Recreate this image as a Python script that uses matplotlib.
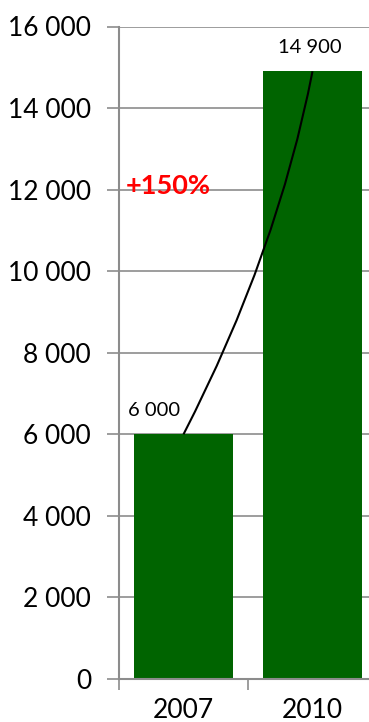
import matplotlib
matplotlib.use("Agg")
import matplotlib.pyplot as plt
from matplotlib.path import Path
from matplotlib.patches import PathPatch
from matplotlib.ticker import FuncFormatter

years = ["2007", "2010"]
values = [6000, 14900]
value_labels = ["6 000", "14 900"]
growth_label = "+150%"

plt.rcParams["font.family"] = ["Lato", "DejaVu Sans"]

fig = plt.figure(figsize=(3.69, 7.22), dpi=100)
ax = fig.add_axes([119 / 369, 43 / 722, 258 / 369, 652.5 / 722])

x = list(range(len(years)))
ax.bar(x, values, width=0.77, color="#006400", zorder=2)

ax.set_xlim(-0.5, 1.5)
ax.set_ylim(0, 16000)
ax.set_yticks(range(0, 16001, 2000))
ax.yaxis.set_major_formatter(FuncFormatter(lambda v, p: f"{int(v):,}".replace(",", " ")))
ax.grid(axis="y", color="#8c8c8c", linewidth=1.2, zorder=0)
ax.set_axisbelow(True)

ax.set_xticks([-0.5, 0.5, 1.5])
ax.set_xticklabels([])
ax.set_xticks(x, minor=True)
ax.set_xticklabels(years, minor=True)
ax.tick_params(axis="x", which="major", length=8, width=1.2, color="#8c8c8c")
ax.tick_params(axis="x", which="minor", length=0, pad=14, labelsize=19)
ax.tick_params(axis="y", length=9, width=1.2, color="#8c8c8c", pad=11, labelsize=19)

for side in ("top", "right"):
    ax.spines[side].set_visible(False)
for side in ("left", "bottom"):
    ax.spines[side].set_color("#8c8c8c")
    ax.spines[side].set_linewidth(1.5)

# value labels above the bars
ax.annotate(value_labels[0], (x[0], values[0]), xytext=(-21, 11), textcoords="offset points",
            ha="center", va="bottom", fontsize=14.5)
ax.annotate(value_labels[1], (x[1], values[1]), xytext=(-2, 11), textcoords="offset points",
            ha="center", va="bottom", fontsize=14.5)

# growth curve between the two bar tops
curve = Path([(x[0], values[0]), (0.73, 10480), (x[1], values[1])],
             [Path.MOVETO, Path.CURVE3, Path.CURVE3])
ax.add_patch(PathPatch(curve, facecolor="none", edgecolor="black", linewidth=1.5, zorder=3))

ax.text(-0.446, 11900, growth_label, color="red", fontsize=19.5, fontweight="bold",
        ha="left", va="baseline")

fig.savefig("out.png", dpi=100)
